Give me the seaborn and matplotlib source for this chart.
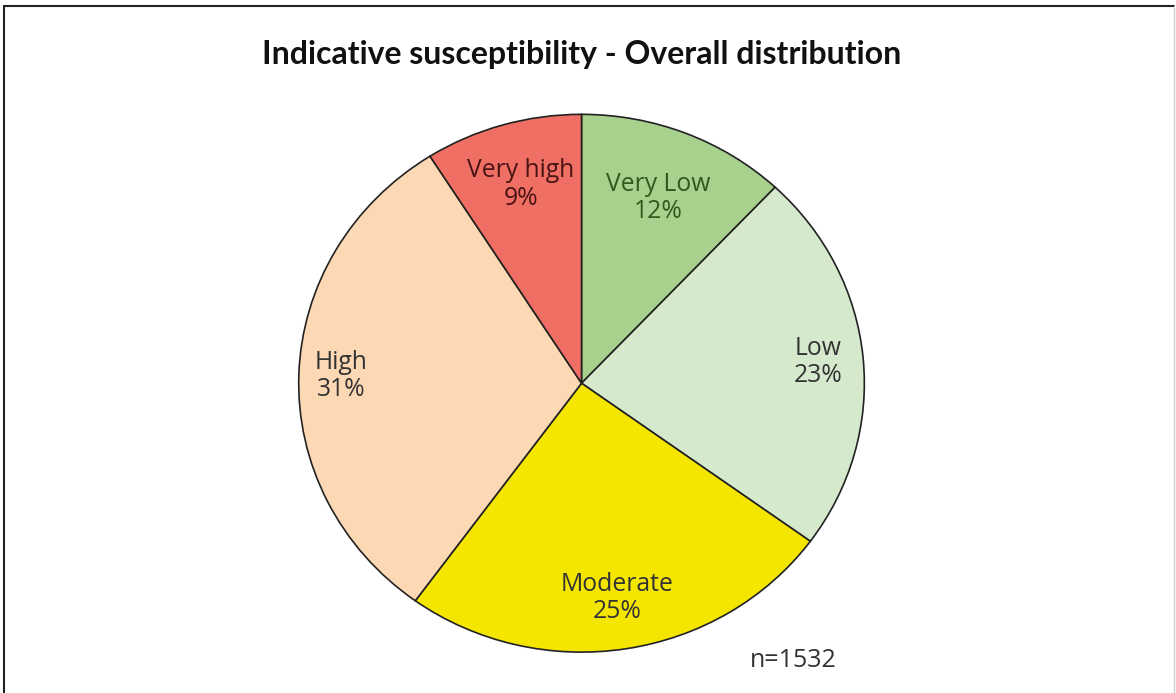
import numpy as np
import seaborn as sns
import matplotlib.pyplot as plt
from matplotlib.lines import Line2D

categories = ['Very Low', 'Low', 'Moderate', 'High', 'Very high']
shares = [12, 23, 25, 31, 9]
colors = ['#a9d18e', '#d5e9cc', '#f5e600', '#fdd8b4', '#ef6f64']
text_colors = ['#2e5a1c', '#333333', '#333333', '#333333', '#4a1414']
n_total = 1532

# how far out each label sits (fraction of radius), Excel "best fit"-ish
label_radius = [0.74, 0.84, 0.81, 0.85, 0.77]

sns.set_theme(style='white')
plt.rcParams['font.family'] = ['Open Sans', 'DejaVu Sans']

fig = plt.figure(figsize=(11.76, 6.93), dpi=100)
ax = fig.add_axes([0.254, 0.059, 0.481, 0.776])

wedges, _ = ax.pie(shares, colors=colors, startangle=90, counterclock=False,
                   wedgeprops=dict(edgecolor='#222222', linewidth=1.2))
for w, c, s, tc, r in zip(wedges, categories, shares, text_colors, label_radius):
    mid = np.deg2rad((w.theta1 + w.theta2) / 2)
    ax.text(r * np.cos(mid), r * np.sin(mid), f'{c}\n{s}%', ha='center',
            va='center', fontsize=17.8, linespacing=1.12, color=tc)
ax.set_aspect('auto')
ax.set_xlim(-1, 1)
ax.set_ylim(-1, 1)

fig.text(0.495, 0.922, 'Indicative susceptibility - Overall distribution',
         ha='center', va='center', fontsize=23, fontweight='bold',
         family=['Lato', 'DejaVu Sans'], color='#111111')
fig.text(0.638, 0.047, f'n={n_total}', ha='left', va='center', fontsize=18,
         color='#333333')

# frame around the picture
fig.add_artist(Line2D([0.0035, 0.9985], [0.992, 0.992], color='#222222', lw=1.5))
fig.add_artist(Line2D([0.0035, 0.0035], [0.0, 0.992], color='#222222', lw=1.5))
fig.add_artist(Line2D([0.9985, 0.9985], [0.0, 0.992], color='#cccccc', lw=1.0))

fig.savefig('out.png', dpi=100, facecolor='white')
